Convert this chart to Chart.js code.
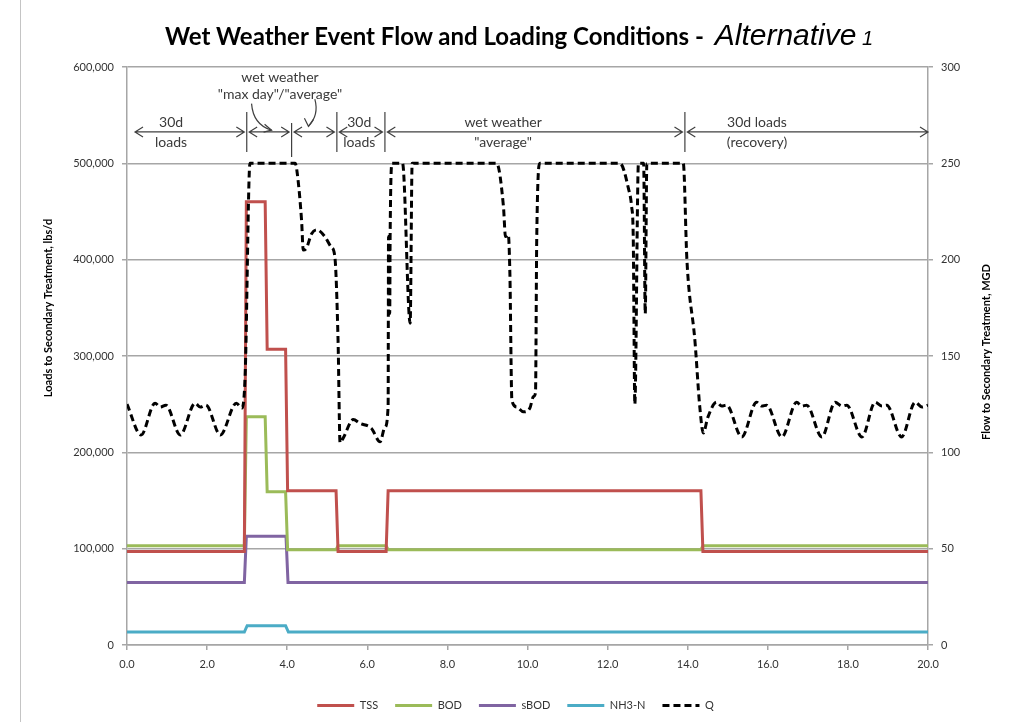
<!DOCTYPE html>
<html>
<head>
<meta charset="utf-8">
<title>Wet Weather Event Flow and Loading Conditions</title>
<script src="https://cdn.jsdelivr.net/npm/chart.js@4.4.1/dist/chart.umd.min.js"></script>
<style>
  html, body { margin: 0; padding: 0; background: #fff; }
  #wrap { position: relative; width: 1009px; height: 722px; overflow: hidden; }
  #chart { position: absolute; left: 0; top: 0; }
  #title { position: absolute; top: 18px; left: 165px; white-space: nowrap; color: #000; line-height: 36px; }
  #title .main { font: bold 24px Lato, sans-serif; }
  #title .alt { font: italic 30px "Liberation Sans", Arial, sans-serif; margin-left: 5px; }
  #title .num { font: italic 20px "Liberation Sans", Arial, sans-serif; }
</style>
</head>
<body>
<div id="wrap">
  <canvas id="chart" width="1009" height="722"></canvas>
  <div id="title"><span class="main">Wet Weather Event Flow and Loading Conditions - </span><span class="alt">Alternative</span><span class="num"> 1</span></div>
</div>
<script>
// axis ticks
const dayTicks = [0, 2, 4, 6, 8, 10, 12, 14, 16, 18, 20];
const loadTicks = [0, 100000, 200000, 300000, 400000, 500000, 600000];
const flowTicks = [0, 50, 100, 150, 200, 250, 300];

// loads to secondary treatment, lbs/d
const tssDays = [0, 2.93, 2.98, 3.45, 3.5, 3.96, 4.01, 5.22, 5.27, 6.47, 6.52, 14.33, 14.38, 20];
const tssLoad = [97000, 97000, 460000, 460000, 307000, 307000, 160000, 160000, 97000, 97000, 160000, 160000, 97000, 97000];
const bodDays = [0, 2.93, 2.98, 3.45, 3.5, 3.96, 4.01, 5.22, 5.27, 6.47, 6.52, 14.33, 14.38, 20];
const bodLoad = [103000, 103000, 237000, 237000, 159000, 159000, 99000, 99000, 103000, 103000, 99000, 99000, 103000, 103000];
const sbodDays = [0, 2.93, 2.98, 3.97, 4.02, 20];
const sbodLoad = [65000, 65000, 113000, 113000, 65000, 65000];
const nh3Days = [0, 2.93, 3.0, 3.96, 4.03, 20];
const nh3Load = [13500, 13500, 20000, 20000, 13500, 13500];

// flow to secondary treatment, MGD
const qDays = [0, 0.35, 0.7, 0.83, 0.97, 1.33, 1.7, 1.83, 1.97, 2.33, 2.73, 2.87, 2.95, 3.07,
  4.2, 4.25, 4.36, 4.4, 4.48, 4.61, 4.74, 4.94, 5.1, 5.19, 5.27, 5.32, 5.4, 5.65, 5.82, 6.1, 6.32, 6.44, 6.52,
  6.53, 6.54, 6.55, 6.56, 6.57, 6.62, 6.88, 7.07, 7.12,
  9.23, 9.4, 9.45, 9.52, 9.56, 9.61, 9.73, 9.9, 10.06, 10.15, 10.2, 10.23, 10.31,
  12.31, 12.52, 12.6, 12.64, 12.68, 12.77, 12.9, 12.94, 12.98,
  13.89, 13.98, 14.18, 14.3, 14.39, 14.5, 14.72, 14.85, 14.97, 15.35, 15.72, 15.85, 15.97,
  16.35, 16.72, 16.85, 16.97, 17.35, 17.68, 17.85, 17.97, 18.35, 18.68, 18.85, 18.97, 19.34, 19.68, 19.85, 20];
const qFlow = [125, 109, 125.5, 123.5, 124.5, 109, 125.5, 123.5, 124.5, 109, 125.5, 123, 140, 250,
  250, 245, 220, 205, 206, 213.5, 215.5, 212, 206.5, 201.5, 158, 105, 107.5, 117, 115, 112.5, 105.5, 113, 124,
  212, 172, 212, 172, 212, 250, 250, 167, 250,
  250, 227.5, 212, 213, 193, 127, 123.5, 121, 123, 129, 131, 210, 250,
  250, 237, 227.5, 212, 125, 250, 250, 172, 250,
  250, 200, 158, 124, 110, 118, 126, 124, 124.5, 108, 126, 124, 124.5,
  108, 126, 124, 124.5, 108, 126, 124, 124.5, 108, 126, 124, 124.5, 108, 126, 123.5, 124.5];

// period annotations above the plot (day positions)
const periodBreaks = [2.99, 4.11, 5.24, 6.44, 13.93];
const periodArrows = [[0.2, 2.93], [3.05, 4.05], [4.17, 5.18], [5.3, 6.38], [6.5, 13.87], [13.99, 20]];
const periodLabels = [
  { day: 1.1, lines: ['30d', 'loads'] },
  { day: 5.8, lines: ['30d', 'loads'] },
  { day: 9.39, lines: ['wet weather', '"average"'] },
  { day: 15.73, lines: ['30d loads', '(recovery)'] }
];
const eventLabel = { day: 3.82, lines: ['wet weather', '"max day"/"average"'] };

const pts = (xs, ys) => xs.map((x, i) => ({ x: x, y: ys[i] }));

const annotate = {
  id: 'annotate',
  beforeDraw(chart) {
    const ctx = chart.ctx;
    ctx.save();
    ctx.strokeStyle = '#c4c4c4';
    ctx.lineWidth = 1;
    ctx.beginPath();
    ctx.moveTo(20.5, 0);
    ctx.lineTo(20.5, 722);
    ctx.stroke();
    ctx.restore();
  },
  afterDraw(chart) {
    const { ctx, scales: { x, y1 } } = chart;
    const X = d => x.getPixelForValue(d);
    const Y = q => y1.getPixelForValue(q);
    ctx.save();
    ctx.strokeStyle = '#404040';
    ctx.fillStyle = '#3a3a3a';
    ctx.lineWidth = 1.2;

    // period dividers
    periodBreaks.forEach((d, i) => {
      const top = i === 1 ? 270.9 : 276.6;
      const bot = i === 1 ? 253.3 : 255.9;
      ctx.beginPath();
      ctx.moveTo(X(d), Y(top));
      ctx.lineTo(X(d), Y(bot));
      ctx.stroke();
    });

    // double headed arrows
    const ay = Y(266.3);
    periodArrows.forEach(([a, b]) => {
      const xa = X(a), xb = X(b);
      ctx.beginPath();
      ctx.moveTo(xa, ay); ctx.lineTo(xb, ay);
      ctx.moveTo(xa + 8, ay - 5); ctx.lineTo(xa, ay); ctx.lineTo(xa + 8, ay + 5);
      ctx.moveTo(xb - 8, ay - 5); ctx.lineTo(xb, ay); ctx.lineTo(xb - 8, ay + 5);
      ctx.stroke();
    });

    // labels
    ctx.font = '14px Lato, sans-serif';
    ctx.textAlign = 'center';
    ctx.textBaseline = 'middle';
    periodLabels.forEach(l => {
      ctx.fillText(l.lines[0], X(l.day), Y(271.2));
      ctx.fillText(l.lines[1], X(l.day), Y(260.8));
    });
    ctx.fillText(eventLabel.lines[0], X(eventLabel.day), Y(294.8));
    ctx.fillText(eventLabel.lines[1], X(eventLabel.day), Y(285.5));

    // curved pointers from the event label
    ctx.beginPath();
    ctx.moveTo(X(3.11), Y(281));
    ctx.quadraticCurveTo(X(3.15), Y(270), X(3.61), Y(267.2));
    ctx.stroke();
    ctx.beginPath();
    ctx.moveTo(X(3.61) - 7, Y(267.2) - 6); ctx.lineTo(X(3.61), Y(267.2)); ctx.lineTo(X(3.61) - 8, Y(267.2) + 2);
    ctx.stroke();
    ctx.beginPath();
    ctx.moveTo(X(4.69), Y(283.3));
    ctx.quadraticCurveTo(X(4.8), Y(275), X(4.53), Y(269.2));
    ctx.stroke();
    ctx.beginPath();
    ctx.moveTo(X(4.53) - 4, Y(269.2) - 8); ctx.lineTo(X(4.53), Y(269.2)); ctx.lineTo(X(4.53) + 5, Y(269.2) - 7);
    ctx.stroke();

    // axis titles
    ctx.fillStyle = '#000';
    ctx.font = 'bold 11px Lato, sans-serif';
    ctx.save();
    ctx.translate(48, 308);
    ctx.rotate(-Math.PI / 2);
    ctx.fillText('Loads to Secondary Treatment, lbs/d', 0, 0);
    ctx.restore();
    ctx.save();
    ctx.translate(986, 352);
    ctx.rotate(-Math.PI / 2);
    ctx.fillText('Flow to Secondary Treatment, MGD', 0, 0);
    ctx.restore();
    ctx.restore();
  }
};

const tickFont = { family: 'Lato, sans-serif', size: 11 };
const axisGray = '#a6a6a6';

new Chart(document.getElementById('chart'), {
  type: 'line',
  data: {
    datasets: [
      { label: 'TSS', data: pts(tssDays, tssLoad), borderColor: '#c0504d', yAxisID: 'y', order: 1 },
      { label: 'BOD', data: pts(bodDays, bodLoad), borderColor: '#9bbb59', yAxisID: 'y', order: 2 },
      { label: 'sBOD', data: pts(sbodDays, sbodLoad), borderColor: '#8064a2', yAxisID: 'y', order: 3 },
      { label: 'NH3-N', data: pts(nh3Days, nh3Load), borderColor: '#4bacc6', yAxisID: 'y', order: 4 },
      { label: 'Q', data: pts(qDays, qFlow), borderColor: '#000', borderDash: [7, 4], yAxisID: 'y1', order: 0,
        cubicInterpolationMode: 'monotone' }
    ]
  },
  options: {
    responsive: false,
    animation: false,
    parsing: false,
    layout: { padding: { top: 67, left: 11, right: -11, bottom: 1 } },
    elements: {
      point: { radius: 0 },
      line: { borderWidth: 3, tension: 0, fill: false }
    },
    plugins: {
      title: { display: false },
      tooltip: { enabled: false },
      legend: {
        position: 'bottom',
        labels: {
          usePointStyle: true,
          pointStyle: 'line',
          pointStyleWidth: 37,
          padding: 17,
          color: '#333',
          font: tickFont,
          generateLabels: chart => chart.data.datasets.map((ds, i) => ({
            text: ds.label,
            datasetIndex: i,
            fillStyle: ds.borderColor,
            strokeStyle: ds.borderColor,
            lineWidth: 3,
            lineDash: ds.borderDash || [],
            pointStyle: 'line',
            hidden: false,
            fontColor: '#333'
          }))
        }
      }
    },
    scales: {
      x: {
        type: 'linear',
        min: 0, max: 20,
        afterBuildTicks: s => { s.ticks = dayTicks.map(v => ({ value: v })); },
        afterFit: s => { s.height = 76 - s.chart.legend.height; },
        ticks: { callback: v => v.toFixed(1), color: '#333', font: tickFont, padding: 8, maxRotation: 0 },
        grid: { drawOnChartArea: false, drawTicks: true, tickLength: 5, color: axisGray, lineWidth: 1.5 },
        border: { color: axisGray, width: 1.5 }
      },
      y: {
        position: 'left',
        min: 0, max: 600000,
        afterBuildTicks: s => { s.ticks = loadTicks.map(v => ({ value: v })); },
        afterFit: s => { s.width = 116; },
        ticks: { callback: v => v.toLocaleString('en-US'), color: '#333', font: tickFont, padding: 8 },
        grid: { color: axisGray, lineWidth: 1.5, tickLength: 5 },
        border: { color: axisGray, width: 1.5 }
      },
      y1: {
        position: 'right',
        min: 0, max: 300,
        afterBuildTicks: s => { s.ticks = flowTicks.map(v => ({ value: v })); },
        afterFit: s => { s.width = 92; },
        ticks: { color: '#333', font: tickFont, padding: 8 },
        grid: { drawOnChartArea: false, color: axisGray, lineWidth: 1.5, tickLength: 5 },
        border: { color: axisGray, width: 1.5 }
      }
    }
  },
  plugins: [annotate]
});
</script>
</body>
</html>
